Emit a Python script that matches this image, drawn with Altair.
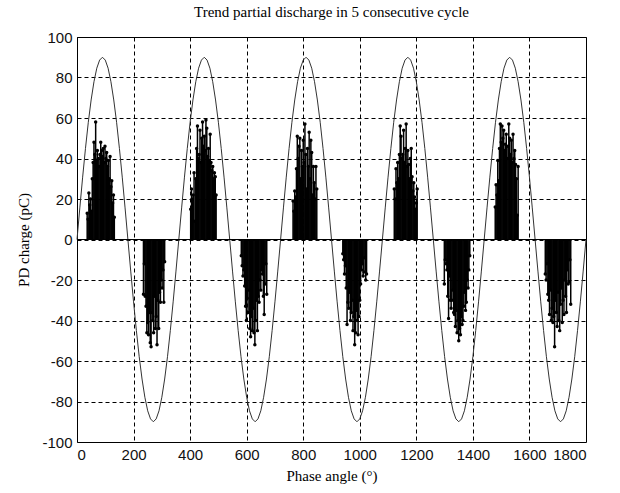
import altair as alt
import pandas as pd

# ---- data ----
SINE_PHASE = list(range(0, 1810, 10))
SINE_PC = [
    0, 15.6, 30.8, 45.0, 57.9, 68.9, 77.9, 84.6, 88.6, 90.0, 88.6, 84.6, 77.9, 68.9, 57.9, 45.0, 30.8, 15.6,
    0, -15.6, -30.8, -45.0, -57.9, -68.9, -77.9, -84.6, -88.6, -90.0, -88.6, -84.6, -77.9, -68.9, -57.9, -45.0, -30.8, -15.6,
    0, 15.6, 30.8, 45.0, 57.9, 68.9, 77.9, 84.6, 88.6, 90.0, 88.6, 84.6, 77.9, 68.9, 57.9, 45.0, 30.8, 15.6,
    0, -15.6, -30.8, -45.0, -57.9, -68.9, -77.9, -84.6, -88.6, -90.0, -88.6, -84.6, -77.9, -68.9, -57.9, -45.0, -30.8, -15.6,
    0, 15.6, 30.8, 45.0, 57.9, 68.9, 77.9, 84.6, 88.6, 90.0, 88.6, 84.6, 77.9, 68.9, 57.9, 45.0, 30.8, 15.6,
    0, -15.6, -30.8, -45.0, -57.9, -68.9, -77.9, -84.6, -88.6, -90.0, -88.6, -84.6, -77.9, -68.9, -57.9, -45.0, -30.8, -15.6,
    0, 15.6, 30.8, 45.0, 57.9, 68.9, 77.9, 84.6, 88.6, 90.0, 88.6, 84.6, 77.9, 68.9, 57.9, 45.0, 30.8, 15.6,
    0, -15.6, -30.8, -45.0, -57.9, -68.9, -77.9, -84.6, -88.6, -90.0, -88.6, -84.6, -77.9, -68.9, -57.9, -45.0, -30.8, -15.6,
    0, 15.6, 30.8, 45.0, 57.9, 68.9, 77.9, 84.6, 88.6, 90.0, 88.6, 84.6, 77.9, 68.9, 57.9, 45.0, 30.8, 15.6,
    0, -15.6, -30.8, -45.0, -57.9, -68.9, -77.9, -84.6, -88.6, -90.0, -88.6, -84.6, -77.9, -68.9, -57.9, -45.0, -30.8, -15.6,
    0,
]

PD_STEP = 3  # degrees between successive discharge samples

P1_START = 36
P1 = [13, 10, 23, 17, 20, 14, 30, 38, 48, 42, 58, 39, 44, 40, 36, 42, 48, 44, 41, 45,
      38, 46, 40, 43, 36, 39, 30, 41, 26, 29, 18, 22, 11]
N1_START = 235
N1 = [-27, -12, -28, -33, -46, -41, -47, -36, -51, -53, -36, -40, -46, -28, -44, -38,
      -52, -30, -44, -26, -31, -20, -24, -15, -31, -11]
P2_START = 402
P2 = [15, 25, 20, 22, 33, 9, 30, 45, 56, 40, 42, 54, 38, 50, 58, 46, 51, 44, 59, 55,
      41, 45, 39, 52, 38, 34, 36, 30, 33, 31, 22]
N2_START = 581
N2 = [-8, -13, -18, -15, -23, -33, -40, -29, -36, -25, -44, -48, -38, -45, -34, -46,
      -52, -40, -30, -45, -28, -31, -20, -25, -15, -17, -28, -37, -22, -12, -27]
P3_START = 764
P3 = [19, 14, 24, 21, 35, 51, 40, 46, 50, 30, 44, 36, 49, 38, 57, 42, 25, 45, 36, 53,
      30, 49, 43, 22, 36, 28, 20, 36, 25]
N3_START = 940
N3 = [-7, -10, -17, -13, -24, -42, -31, -34, -26, -40, -36, -30, -45, -38, -52, -46,
      -35, -40, -47, -38, -30, -22, -15, -12, -18, -16, -9, -20, -17]
P4_START = 1122
P4 = [25, 20, 35, 28, 38, 30, 42, 56, 51, 40, 42, 54, 38, 45, 57, 36, 44, 37, 30, 40,
      45, 31, 24, 28, 21, 15, 18, 25]
N4_START = 1299
N4 = [-22, -10, -12, -15, -28, -39, -18, -30, -34, -30, -25, -36, -37, -43, -35, -46,
      -40, -50, -44, -47, -38, -42, -40, -33, -26, -35, -31, -20, -24, -15, -8]
P5_START = 1479
P5 = [16, 27, 22, 39, 29, 45, 57, 48, 56, 50, 54, 44, 47, 52, 40, 46, 57, 50, 42, 49,
      38, 52, 40, 44, 37, 30, 12, 36]
N5_START = 1656
N5 = [-17, -20, -12, -27, -30, -37, -25, -40, -34, -41, -38, -53, -30, -36, -43, -26,
      -40, -45, -32, -24, -41, -30, -37, -20, -28, -36, -15, -22, -21, -10, -32]

X_TICKS = list(range(0, 1801, 200))
Y_TICKS = list(range(-100, 101, 20))

# ---- tables ----
sine_df = pd.DataFrame({"phase": SINE_PHASE, "charge": SINE_PC})

clusters = [(P1_START, P1), (N1_START, N1), (P2_START, P2), (N2_START, N2),
            (P3_START, P3), (N3_START, N3), (P4_START, P4), (N4_START, N4),
            (P5_START, P5), (N5_START, N5)]
rows = []
for start, vals in clusters:
    for i, v in enumerate(vals):
        rows.append({"phase": start + PD_STEP * i, "charge": v, "zero": 0})
pd_df = pd.DataFrame(rows)
zero_df = pd.DataFrame({"y": [0]})

xscale = alt.Scale(domain=[0, 1800], nice=False, zero=False)
yscale = alt.Scale(domain=[-100, 100], nice=False)

common_axis = dict(
    grid=True, ticks=False, domain=False, labelPadding=5,
    gridColor="black", gridDash=[4, 3], gridOpacity=1, gridWidth=1,
    labelFont="Liberation Sans", labelFontSize=15, labelColor="#111111",
    titleFont="Liberation Serif", titleFontSize=15, titleFontWeight="normal",
    titleColor="black", labelExpr="datum.value",
)
xaxis = alt.Axis(values=X_TICKS, title="Phase angle (°)", titlePadding=6, **common_axis)
yaxis = alt.Axis(values=Y_TICKS, title="PD charge (pC)", titlePadding=10, **common_axis)

sine = alt.Chart(sine_df).mark_line(color="#333333", strokeWidth=1).encode(
    x=alt.X("phase:Q", scale=xscale, axis=xaxis),
    y=alt.Y("charge:Q", scale=yscale, axis=yaxis),
)

baseline = alt.Chart(zero_df).mark_rule(color="black", strokeWidth=1).encode(
    y=alt.Y("y:Q", scale=yscale),
)

stems = alt.Chart(pd_df).mark_rule(color="black", strokeWidth=1.5).encode(
    x=alt.X("phase:Q", scale=xscale),
    y=alt.Y("zero:Q", scale=yscale),
    y2="charge:Q",
)

dots = alt.Chart(pd_df).mark_point(filled=True, color="black", size=12, opacity=1).encode(
    x=alt.X("phase:Q", scale=xscale),
    y=alt.Y("charge:Q", scale=yscale),
)

chart = alt.layer(sine, stems, dots, baseline).properties(
    width=509,
    height=405,
    background="white",
    title=alt.TitleParams("Trend partial discharge in 5 consecutive cycle",
                          font="Liberation Serif", fontSize=15, fontWeight="normal",
                          color="black", offset=10),
    autosize=alt.AutoSizeParams(type="none"),
    padding={"left": 77, "top": 37, "right": 34, "bottom": 51},
).configure_view(
    stroke="black", strokeWidth=1
)

chart.save("out.html", embed_options={"renderer": "svg", "actions": False})
